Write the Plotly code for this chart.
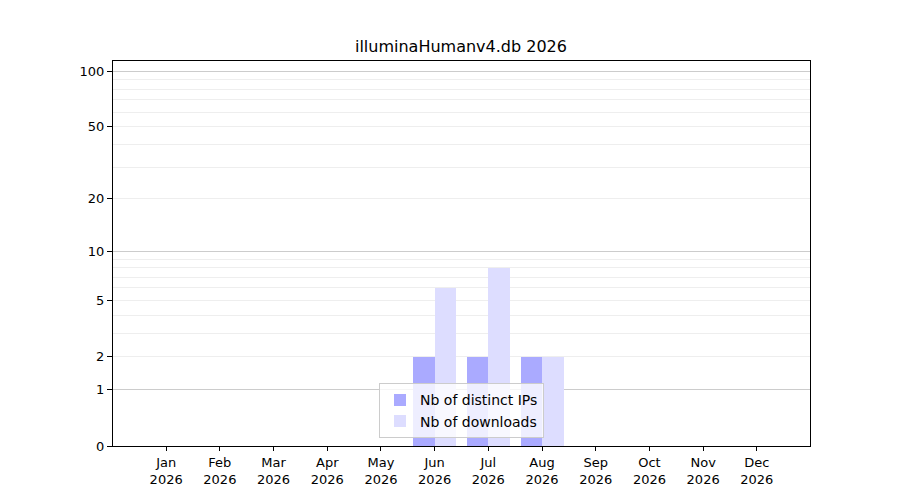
"""
Monthly download stats for illuminaHumanv4.db, drawn on a log(1+y) axis.
"""
import plotly.graph_objects as graph

months = ["Jan", "Feb", "Mar", "Apr", "May", "Jun",
          "Jul", "Aug", "Sep", "Oct", "Nov", "Dec"]
year = "2026"
distinct_ips = [0, 0, 0, 0, 0, 2, 2, 2, 0, 0, 0, 0]
downloads = [0, 0, 0, 0, 0, 6, 8, 2, 0, 0, 0, 0]

y_labels = [0, 1, 2, 5, 10, 20, 50, 100]
major_grid = [1, 10, 100]
minor_grid = [2, 3, 4, 5, 6, 7, 8, 9, 20, 30, 40, 50, 60, 70, 80, 90]


def shift(values):
    """The axis is log10(1 + y), so plot 1 + value on a log axis."""
    return [v + 1 for v in values]


x_pos = list(range(len(months)))
fig = graph.Figure()
fig.add_trace(graph.Bar(x=x_pos, y=shift(distinct_ips), base=0,
                        width=0.4, offset=-0.4,
                        marker=dict(color="#aaaaff", line=dict(width=0)),
                        name="Nb of distinct IPs"))
fig.add_trace(graph.Bar(x=x_pos, y=shift(downloads), base=0,
                        width=0.4, offset=0,
                        marker=dict(color="#ddddff", line=dict(width=0)),
                        name="Nb of downloads"))
# invisible trace just to own the overlay axis with the darker grid
fig.add_trace(graph.Scatter(x=[0], y=[1], yaxis="y2", mode="markers",
                            marker=dict(opacity=0), showlegend=False,
                            hoverinfo="skip"))

y_range = [0, 2.059]
# page body has an 8px margin, so margins are nudged up/left by 8px
fig.update_layout(
    width=900, height=500,
    margin=dict(l=105, r=98, t=53, b=62),
    plot_bgcolor="white", paper_bgcolor="white",
    font=dict(family="DejaVu Sans", size=13, color="black"),
    title=dict(text="illuminaHumanv4.db " + year, x=0.5033, xanchor="center",
               y=0.924, yanchor="middle", font=dict(size=16)),
    barmode="overlay",
    bargap=0,
    xaxis=dict(range=[-0.99, 11.99], tickmode="array", tickvals=x_pos,
               ticktext=[m + "<br>" + year for m in months],
               ticks="outside", ticklen=4, tickcolor="black",
               showline=True, linecolor="black", mirror=True,
               showgrid=False, zeroline=False),
    yaxis=dict(type="log", range=y_range, tickmode="array",
               tickvals=shift(y_labels), ticktext=[str(v) for v in y_labels],
               ticks="outside", ticklen=5, tickcolor="black",
               showline=True, linecolor="black", mirror=True,
               showgrid=False, zeroline=False,
               minor=dict(tickmode="array", tickvals=shift(minor_grid),
                          showgrid=True, gridcolor="#eeeeee", ticks="")),
    yaxis2=dict(type="log", range=y_range, overlaying="y", side="left",
                tickmode="array", tickvals=shift(major_grid),
                showticklabels=False, ticks="", showgrid=True,
                gridcolor="#cccccc", zeroline=False, showline=False),
    legend=dict(x=0.5, xanchor="center", y=0.02, yanchor="bottom",
                bgcolor="rgba(255,255,255,0.8)", bordercolor="#cccccc",
                borderwidth=1, font=dict(size=14), tracegroupgap=0),
)

fig.write_html("out.html")
